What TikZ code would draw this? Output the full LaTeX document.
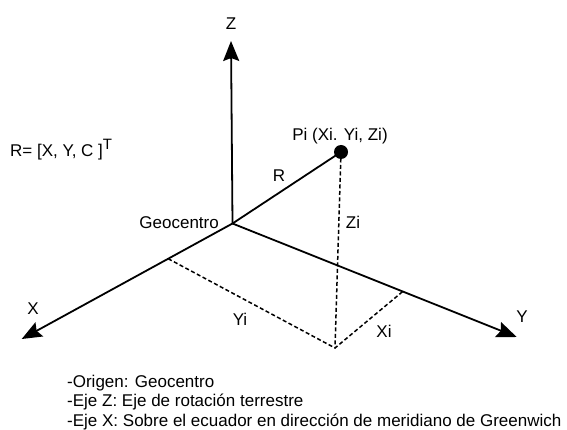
\documentclass[tikz,border=0pt]{standalone}
\usepackage{fontspec}
\setmainfont{Liberation Sans}
\usetikzlibrary{arrows.meta,calc}
\begin{document}
\begin{tikzpicture}[x=1pt,y=-1pt,
  axis/.style={line width=1.8pt, -{Stealth[length=20pt,width=16pt,inset=3pt]}},
  plainline/.style={line width=1.8pt},
  dline/.style={line width=1.5pt, dash pattern=on 4pt off 2.5pt},
  lbl/.style={font=\fontsize{17}{20}\selectfont, inner sep=0pt, text height=12.2pt, text depth=0pt},
  ]
\useasboundingbox (0,0) rectangle (567,430);
\coordinate (O) at (232.5,223.5);
\coordinate (Zt) at (231,41);
\coordinate (Xt) at (21.7,339);
\coordinate (Yt) at (516.7,337);
\coordinate (B) at (335,348);
\coordinate (Xp) at ($(O)!0.305!(Xt)$);
\coordinate (Yp) at ($(O)!0.599!(Yt)$);
\node[circle, fill=black, inner sep=0pt, minimum size=14pt] (P) at (341,152) {};

\draw[axis] (O) -- (Zt);
\draw[axis] (O) -- (Xt);
\draw[axis] (O) -- (Yt);
\draw[plainline] (O) -- (P.center);
\draw[dline] (P.center) -- (B);
\draw[dline] (Xp) -- (B) -- (Yp);

\node[lbl] (lz) at (231,23) {Z};
\node[lbl] (lx) at (33,308) {X};
\node[lbl] (ly) at (522,316) {Y};
\node[lbl] (lp) at (340,134) {Pi (Xi. Yi, Zi)};
\node[lbl] (lr) at (279,175) {R};
\node[lbl, anchor=east] (lg) at (219,222) {Geocentro};
\node[lbl] (lzi) at (353,222) {Zi};
\node[lbl] (lyi) at (240,319) {Yi};
\node[lbl] (lxi) at (384,331) {Xi};
\node[lbl, anchor=west] (lvec) at (10,150) {R= [X, Y, C ]\raisebox{7pt}{\fontsize{15}{15}\selectfont T}};

\node[lbl, anchor=west] (t1) at (67,381) {-Origen: Geocentro};
\node[lbl, anchor=west] (t2) at (67,400.5) {-Eje Z: Eje de rotación terrestre};
\node[lbl, anchor=west] (t3) at (67,420) {-Eje X: Sobre el ecuador en dirección de meridiano de Greenwich};
\end{tikzpicture}
\end{document}
